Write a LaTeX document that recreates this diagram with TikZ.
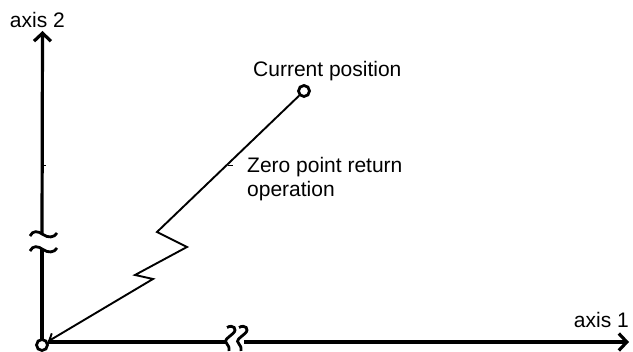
\documentclass[tikz,border=0pt]{standalone}
\usepackage{fontspec}
\setmainfont{Liberation Sans}
\usetikzlibrary{arrows.meta}
\begin{document}
\begin{tikzpicture}[x=1pt,y=-1pt,
  axisline/.style={line width=3.2pt},
  axisarrow/.style={axisline,-{Straight Barb[length=8pt,width=17pt,line width=3.2pt]}},
  pathline/.style={line width=1.9pt, line join=miter},
  breakmark/.style={line width=2.8pt},
  ring/.style={circle,draw,line width=2.8pt,minimum size=11pt,inner sep=0pt},
  lbl/.style={font=\fontsize{21}{24}\selectfont, inner sep=0pt},
  tick/.style={line width=1.2pt}]
\useasboundingbox (0,0) rectangle (633,352);
% nodes
\node[ring] (O) at (42,345) {};
\node[ring] (P) at (304,91) {};
\coordinate (ytop) at (42.5,31);
\coordinate (xend) at (629,342);
\coordinate (yb1) at (42,234);
\coordinate (yb2) at (42,249);
\coordinate (ybot) at (42,339);
\coordinate (xb1) at (227,342);
\coordinate (xb2) at (244,342);
\coordinate (xstart) at (47.5,342);
\coordinate (z1) at (157,232);
\coordinate (z2) at (187,247);
\coordinate (z3) at (135,275);
\coordinate (z4) at (153,279);
% axes
\draw[axisline] (ybot) -- (yb2);
\draw[axisarrow] (yb1) -- (ytop);
\draw[axisline] (xstart) -- (xb1);
\draw[axisarrow] (xb2) -- (xend);
% break marks on axis 2
\draw[breakmark] (30,236) .. controls (33,230) and (38,231) .. (43,234.5) .. controls (48,238) and (54,238) .. (57,233);
\draw[breakmark] (30,251) .. controls (33,245) and (38,246) .. (43,249.5) .. controls (48,253) and (54,253) .. (57,248);
% break marks on axis 1
\draw[breakmark] (227,327.5) .. controls (233,324) and (238,329) .. (233,333.5) .. controls (228,338) and (223,340) .. (227,344) .. controls (229,346.5) .. (229,351);
\draw[breakmark] (239,327.5) .. controls (245,324) and (250,329) .. (245,333.5) .. controls (240,338) and (235,340) .. (239,344) .. controls (241,346.5) .. (241,351);
% operation path
\draw[pathline,-{Straight Barb[length=6pt,width=10pt,line width=1.9pt]}] (P) -- (z1) -- (z2) -- (z3) -- (z4) -- (O);
% small ticks
\draw[tick] (228,165.5) -- (233,165.5);
\draw[tick] (43,165.5) -- (46,165.5);
% labels
\node[lbl,anchor=base east] (l2) at (65,28) {axis 2};
\node[lbl,anchor=base east] (l1) at (629,328) {axis 1};
\node[lbl,anchor=base west] (lc) at (253,77) {Current position};
\node[lbl,anchor=base west] (lz1) at (247,173) {Zero point return};
\node[lbl,anchor=base west] (lz2) at (247,197) {operation};
\end{tikzpicture}
\end{document}
